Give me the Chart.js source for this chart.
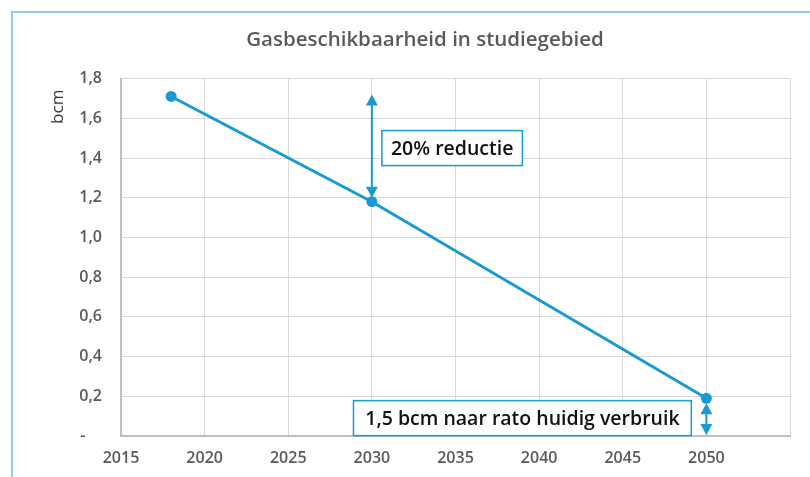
<!DOCTYPE html>
<html>
<head>
<meta charset="utf-8">
<script src="https://cdn.jsdelivr.net/npm/chart.js@4"></script>
<style>
  html, body { margin: 0; padding: 0; background: #ffffff; }
  #wrap { position: relative; width: 810px; height: 477px; overflow: hidden; }
  #frame { position: absolute; left: 11px; top: 11px; width: 830px; height: 500px; border: 2px solid #8fcbea; box-sizing: border-box; }
  canvas { position: absolute; left: 0; top: 0; }
</style>
</head>
<body>
<div id="wrap">
  <div id="frame"></div>
  <canvas id="c" width="810" height="477"></canvas>
</div>
<script>
// ---- data ----
const chartTitle = 'Gasbeschikbaarheid in studiegebied';
const yAxisLabel = 'bcm';
const years = [2018, 2030, 2050];
const values = [1.71, 1.18, 0.19];
const xTickValues = [2015, 2020, 2025, 2030, 2035, 2040, 2045, 2050, 2055];
const yTickValues = [0, 0.2, 0.4, 0.6, 0.8, 1.0, 1.2, 1.4, 1.6, 1.8];
const arrowLabels = ['20% reductie', '1,5 bcm naar rato huidig verbruik'];

const BLUE = '#1a9ad2';
const TXT = '#595959';

const annotationPlugin = {
  id: 'annot',
  afterDatasetsDraw(chart) {
    const ctx = chart.ctx;
    const xs = chart.scales.x, ys = chart.scales.y;
    const px = v => xs.getPixelForValue(v);
    const py = v => ys.getPixelForValue(v);

    function head(x, tipY, dir) { // dir -1 = up, +1 = down
      ctx.beginPath();
      ctx.moveTo(x, tipY);
      ctx.lineTo(x - 6, tipY - dir * 11);
      ctx.lineTo(x + 6, tipY - dir * 11);
      ctx.closePath();
      ctx.fill();
    }
    function dblArrow(x, yTop, yBot) {
      ctx.save();
      ctx.strokeStyle = BLUE; ctx.fillStyle = BLUE; ctx.lineWidth = 2;
      ctx.beginPath(); ctx.moveTo(x, yTop + 4); ctx.lineTo(x, yBot - 4); ctx.stroke();
      head(x, yTop, -1);
      head(x, yBot, 1);
      ctx.restore();
    }
    function box(text, x0, x1, yc) {
      ctx.save();
      ctx.fillStyle = '#ffffff';
      ctx.strokeStyle = BLUE;
      ctx.lineWidth = 1.5;
      const h = 35;
      ctx.fillRect(x0, yc - h / 2, x1 - x0, h);
      ctx.strokeRect(x0, yc - h / 2, x1 - x0, h);
      ctx.fillStyle = '#111111';
      ctx.font = '600 19.5px "Open Sans"';
      ctx.textAlign = 'center';
      ctx.textBaseline = 'middle';
      ctx.fillText(text, (x0 + x1) / 2, yc + 1);
      ctx.restore();
    }
    // reduction arrow at 2030, from 2018 level down to 2030 value
    dblArrow(px(years[1]), py(values[0]) - 2, py(values[1]) - 4);
    box(arrowLabels[0], px(2030.6), px(2039), py(1.45));
    // remaining arrow at 2050, from 2050 value to zero
    dblArrow(px(years[2]), py(values[2]) + 5, py(0) - 1);
    box(arrowLabels[1], px(2028.9), px(2049.1), py(0.09));

    // y axis label
    ctx.save();
    ctx.fillStyle = '#333333';
    ctx.font = '17px "Open Sans"';
    ctx.translate(58, chart.chartArea.top + 11);
    ctx.rotate(-Math.PI / 2);
    ctx.textAlign = 'right';
    ctx.textBaseline = 'middle';
    ctx.fillText(yAxisLabel, 0, 0);
    ctx.restore();
  }
};

new Chart(document.getElementById('c'), {
  type: 'line',
  data: {
    datasets: [{
      data: years.map((y, i) => ({ x: y, y: values[i] })),
      borderColor: BLUE,
      backgroundColor: BLUE,
      borderWidth: 3,
      pointRadius: 5.5,
      pointHoverRadius: 5.5,
      pointBackgroundColor: BLUE,
      pointBorderWidth: 0,
      tension: 0
    }]
  },
  options: {
    responsive: false,
    animation: false,
    events: [],
    layout: { padding: { left: 60, right: 20, top: 0, bottom: 0 } },
    plugins: {
      legend: { display: false },
      tooltip: { enabled: false },
      title: {
        display: true,
        text: chartTitle,
        color: TXT,
        font: { family: '"Open Sans"', size: 20.5, weight: '600', lineHeight: 1.2 },
        padding: { top: 28, bottom: 26 }
      }
    },
    scales: {
      x: {
        type: 'linear',
        min: xTickValues[0],
        max: xTickValues[xTickValues.length - 1],
        afterBuildTicks(scale) { scale.ticks = xTickValues.map(v => ({ value: v })); },
        afterFit(scale) { scale.height = 41; },
        ticks: {
          color: TXT,
          font: { family: '"Open Sans"', size: 16, weight: '600' },
          padding: 13,
          maxRotation: 0,
          callback: v => (v === xTickValues[xTickValues.length - 1] ? '' : String(v))
        },
        grid: { color: '#d9d9d9', lineWidth: 1, drawTicks: false },
        border: { color: '#bfbfbf', width: 2 }
      },
      y: {
        min: yTickValues[0],
        max: yTickValues[yTickValues.length - 1],
        afterBuildTicks(scale) { scale.ticks = yTickValues.map(v => ({ value: v })); },
        afterFit(scale) { scale.width = 61; },
        ticks: {
          color: TXT,
          font: { family: '"Open Sans"', size: 16, weight: '600' },
          padding: 19,
          callback: v => (v === 0 ? '-    ' : v.toFixed(1).replace('.', ','))
        },
        grid: { color: '#d9d9d9', lineWidth: 1, drawTicks: false },
        border: { color: '#bfbfbf', width: 2 }
      }
    }
  },
  plugins: [annotationPlugin]
});
</script>
</body>
</html>
